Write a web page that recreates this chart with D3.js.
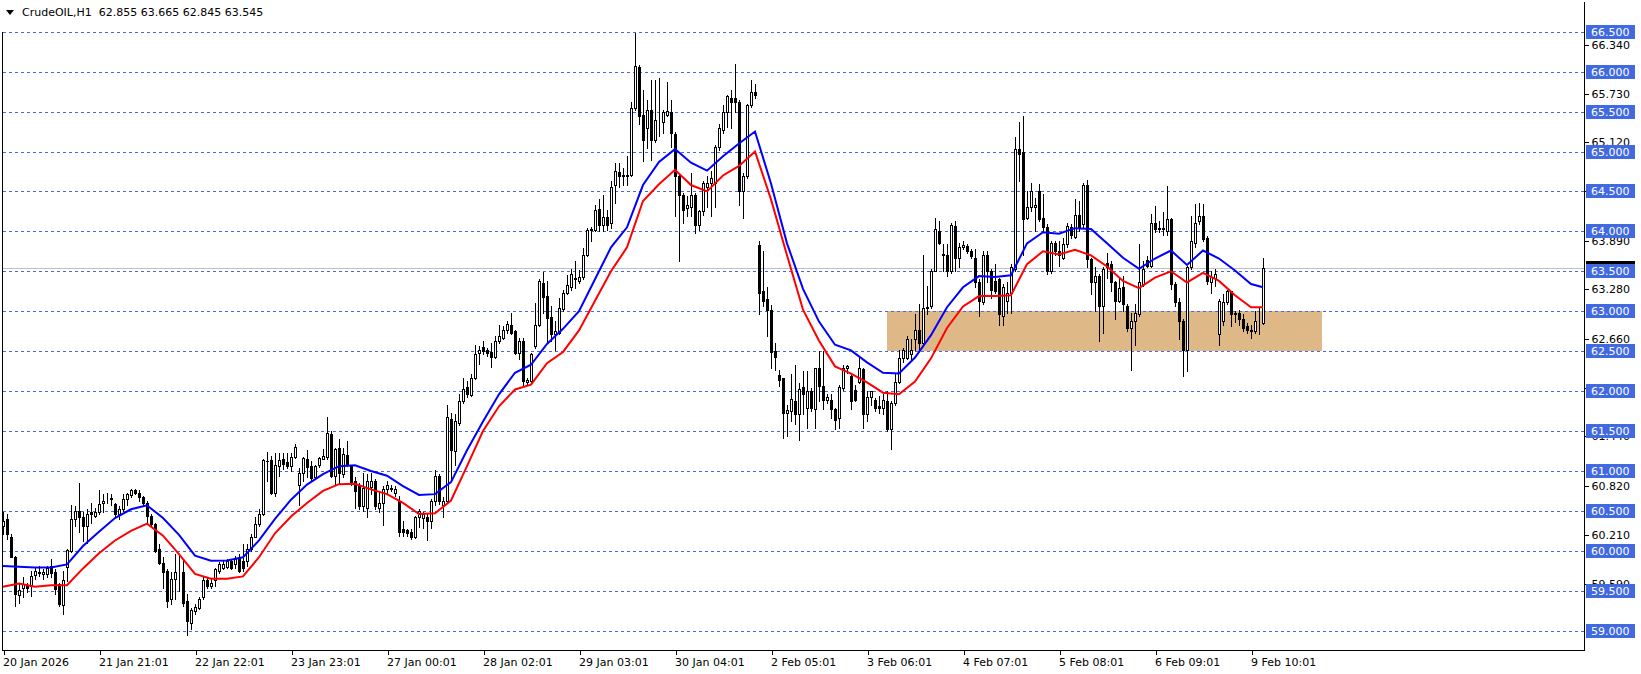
<!DOCTYPE html>
<html><head><meta charset="utf-8">
<script src="https://cdn.jsdelivr.net/npm/d3@7"></script>
<style>
html,body{margin:0;padding:0;background:#fff;}
svg{display:block;}
text{font-family:"DejaVu Sans",Verdana,sans-serif;font-size:11px;}
</style></head>
<body><svg id="c" width="1641" height="674"></svg>
<script>
const opens = [
60.31,60.40,60.175,59.925,59.45,59.54,59.57,59.56,59.70,59.74,
59.71,59.71,59.81,59.73,59.58,59.325,59.80,60.00,60.40,60.50,
60.42,60.31,60.48,60.44,60.48,60.60,60.645,60.65,60.59,60.46,
60.53,60.65,60.70,60.76,60.73,60.67,60.60,60.44,60.33,60.02,
59.85,59.75,59.40,59.65,59.73,59.73,59.375,59.10,59.25,59.29,
59.42,59.63,59.56,59.63,59.75,59.79,59.80,59.875,59.83,59.92,
59.875,59.875,60.02,60.175,60.33,60.46,61.125,61.14,60.73,61.06,
61.15,61.11,61.06,61.17,60.83,60.98,61.15,61.06,60.92,61.07,
61.155,61.17,61.46,60.94,61.29,60.96,61.20,61.06,60.875,60.81,
60.56,60.54,60.80,60.875,60.54,60.60,60.77,60.78,60.73,60.63,
60.27,60.26,60.23,60.17,60.42,60.41,60.42,60.375,60.625,60.94,
60.575,60.625,61.65,61.25,61.60,61.875,62.05,61.95,62.16,62.48,
62.55,62.51,62.49,62.43,62.625,62.67,62.77,62.83,62.75,62.48,
62.63,62.11,62.125,62.56,62.825,63.35,63.19,62.925,62.72,62.73,
63.03,63.23,63.30,63.40,63.375,63.43,63.71,64.02,64.02,64.28,
64.08,64.175,64.10,64.58,64.74,64.69,64.69,64.70,65.54,66.06,
65.46,65.29,65.52,65.145,65.395,65.375,65.46,65.50,65.22,64.69,
64.46,64.29,64.31,64.46,64.08,64.25,64.56,64.60,64.60,65.06,
65.27,65.50,65.67,65.67,65.625,64.50,64.69,65.58,65.75,63.83,
63.25,63.15,63.02,62.50,62.20,62.16,61.73,61.75,61.88,61.71,
62.05,61.79,62.00,61.77,62.29,62.06,61.89,61.89,61.77,61.66,
62.04,62.29,62.19,62.02,62.12,62.28,61.71,61.92,61.89,61.81,
61.79,61.87,61.52,61.85,62.12,62.42,62.42,62.46,62.65,62.76,
62.60,63.04,63.06,63.50,64.01,63.71,63.71,63.50,64.07,63.67,
63.81,63.82,63.76,63.67,63.36,63.11,63.71,63.50,63.38,63.40,
62.94,63.13,63.23,63.53,65.03,64.99,64.17,64.30,64.30,64.51,
64.17,64.06,63.50,63.85,63.76,63.67,63.84,64.05,63.93,64.20,
64.09,64.58,63.65,63.36,63.44,63.07,63.60,63.59,63.36,63.13,
63.30,63.07,62.79,62.88,62.96,63.34,63.64,63.57,64.11,64.03,
64.04,64.01,64.15,63.34,63.11,62.88,62.52,63.55,63.86,64.13,
64.19,63.92,63.36,63.42,62.71,62.88,63.11,63.25,62.98,62.98,
62.90,62.81,62.77,62.75,62.86,62.855];
const highs = [
60.48,60.46,60.21,59.94,59.58,59.67,59.60,59.75,59.80,59.81,
59.77,59.81,59.90,59.77,59.60,59.75,60.02,60.58,60.56,60.85,
60.48,60.52,60.60,60.54,60.76,60.71,60.72,60.71,60.60,60.56,
60.71,60.73,60.78,60.78,60.76,60.69,60.625,60.46,60.35,60.08,
59.92,59.77,59.73,59.96,59.96,59.875,59.46,59.29,59.33,59.42,
59.67,59.67,59.65,59.79,59.86,59.88,59.90,59.90,59.94,59.96,
60.08,60.08,60.21,60.42,60.52,61.15,61.24,61.19,61.23,61.23,
61.23,61.23,61.23,61.34,61.04,61.17,61.26,61.125,61.08,61.175,
61.27,61.675,61.50,61.29,61.40,61.29,61.38,61.08,60.92,60.85,
60.98,60.96,60.98,60.90,60.75,60.81,60.88,60.825,60.81,60.69,
60.375,60.27,60.27,60.44,60.52,60.48,60.46,60.65,61.01,60.96,
60.675,61.83,61.73,61.71,61.96,62.17,62.125,62.21,62.58,62.56,
62.625,62.54,62.60,62.69,62.825,62.81,62.88,62.98,62.77,62.67,
62.67,62.17,62.48,63.10,63.40,63.49,63.375,63.06,62.875,63.16,
63.27,63.45,63.53,63.625,63.52,63.79,64.04,64.05,64.33,64.40,
64.46,64.27,64.625,64.85,64.85,64.79,64.94,65.625,66.48,66.08,
65.77,65.645,65.895,65.895,65.92,65.52,65.875,65.645,65.25,64.73,
64.48,64.44,64.73,64.48,64.27,64.625,64.69,64.75,65.08,65.35,
65.58,65.71,65.77,66.10,65.645,64.73,65.60,65.90,65.85,63.88,
63.76,63.30,63.08,62.60,62.27,62.17,61.83,62.22,62.33,62.10,
62.25,62.25,62.04,62.29,62.50,62.50,61.96,61.96,61.79,62.08,
62.33,62.33,62.23,62.08,62.44,62.29,62.00,62.00,61.91,61.94,
61.96,62.00,61.87,62.21,62.52,62.54,62.69,62.65,62.96,63.09,
63.71,63.32,63.53,64.17,64.13,63.84,63.84,64.11,64.13,63.86,
63.88,63.84,63.78,63.78,63.40,63.76,63.75,63.53,63.59,63.42,
63.34,63.36,63.59,65.18,65.37,65.45,64.51,64.61,64.42,64.59,
64.47,64.09,63.88,63.88,63.88,63.92,64.11,64.09,64.40,64.38,
64.61,64.64,63.67,63.55,63.46,63.55,63.73,63.63,63.38,63.42,
63.44,63.09,62.98,63.09,63.84,63.63,63.69,64.22,64.32,64.13,
64.24,64.57,64.17,63.36,63.17,62.90,63.57,64.19,64.34,64.36,
64.34,63.94,63.50,63.53,63.15,63.21,63.27,63.25,63.00,63.02,
62.96,62.85,62.83,63.00,63.04,63.665];
const lows = [
60.21,60.15,59.92,59.31,59.35,59.42,59.48,59.44,59.65,59.69,
59.65,59.675,59.67,59.46,59.31,59.21,59.62,59.99,60.31,60.23,
60.125,60.10,60.35,60.42,60.46,60.48,60.60,60.58,60.42,60.40,
60.50,60.58,60.68,60.71,60.625,60.56,60.34,60.30,59.98,59.83,
59.54,59.30,59.34,59.40,59.50,59.31,58.95,59.02,59.21,59.27,
59.40,59.54,59.54,59.56,59.72,59.77,59.78,59.77,59.79,59.73,
59.75,59.81,60.00,60.17,60.31,60.45,60.875,60.71,60.69,60.94,
61.03,61.04,61.00,61.16,60.58,60.875,60.92,60.875,60.90,61.05,
61.15,61.15,60.92,60.83,60.85,60.92,61.06,60.83,60.54,60.52,
60.50,60.42,60.71,60.52,60.48,60.325,60.71,60.75,60.69,60.19,
60.19,60.19,60.15,60.16,60.30,60.29,60.13,60.29,60.58,60.59,
60.42,60.60,60.90,61.08,61.58,61.85,61.925,61.94,62.15,62.34,
62.465,62.44,62.30,62.42,62.60,62.65,62.73,62.71,62.46,62.40,
62.06,62.075,62.12,62.54,62.81,62.98,62.60,62.625,62.52,62.71,
63.00,63.21,63.27,63.29,63.35,63.40,63.69,63.88,64.00,64.00,
64.00,64.02,64.04,64.35,64.56,64.58,64.58,64.69,65.52,65.35,
64.88,65.04,64.895,65.125,65.19,65.23,65.445,65.06,64.19,63.625,
64.10,64.19,64.19,63.98,64.02,64.21,64.31,64.19,64.31,65.02,
65.23,65.31,65.29,65.50,64.33,64.17,64.67,65.56,65.67,62.96,
63.06,62.69,62.29,62.27,62.06,61.41,61.44,61.63,61.59,61.39,
61.71,61.54,61.75,61.54,61.87,61.77,61.85,61.66,61.52,61.54,
62.02,62.23,61.77,61.87,62.10,61.54,61.62,61.83,61.75,61.73,
61.71,61.50,61.27,61.83,62.10,62.37,62.40,62.40,62.52,62.52,
62.58,62.96,63.04,63.50,63.84,63.50,63.44,63.48,63.50,63.55,
63.78,63.73,63.67,63.30,62.94,63.09,63.36,63.17,63.23,62.83,
62.83,62.98,62.98,63.50,64.63,63.71,64.15,64.26,64.01,64.13,
64.01,63.46,63.48,63.71,63.57,63.65,63.80,63.92,63.92,64.01,
64.05,63.55,63.21,63.00,62.63,62.73,63.42,63.25,62.90,63.11,
63.00,62.75,62.27,62.58,62.94,63.32,63.55,63.55,63.99,63.99,
63.96,63.96,63.28,63.07,62.65,62.19,62.25,63.53,63.80,64.09,
63.88,63.34,63.23,63.32,62.58,62.83,63.09,62.81,62.86,62.83,
62.75,62.73,62.67,62.73,62.71,62.845];
const closes = [
60.375,60.21,59.925,59.46,59.51,59.58,59.54,59.69,59.75,59.72,
59.73,59.78,59.72,59.52,59.33,59.63,60.01,60.40,60.50,60.42,
60.31,60.46,60.46,60.49,60.59,60.63,60.655,60.66,60.46,60.53,
60.65,60.71,60.76,60.72,60.67,60.60,60.44,60.33,60.00,59.85,
59.73,59.375,59.65,59.73,59.735,59.35,59.125,59.26,59.30,59.40,
59.63,59.56,59.60,59.77,59.83,59.84,59.875,59.79,59.90,59.75,
59.79,60.02,60.17,60.33,60.46,61.14,61.12,60.72,61.07,61.14,
61.09,61.06,61.17,61.30,60.98,61.16,61.05,60.91,61.06,61.16,
61.19,61.47,60.94,61.28,60.98,61.21,61.08,60.85,60.75,60.56,
60.79,60.875,60.88,60.56,60.60,60.77,60.825,60.79,60.78,60.23,
60.23,60.22,60.17,60.42,60.50,60.46,60.375,60.625,60.94,60.625,
60.63,61.675,61.26,61.625,61.875,62.03,61.96,62.17,62.47,62.52,
62.50,62.48,62.43,62.625,62.69,62.77,62.84,62.73,62.48,62.625,
62.125,62.145,62.46,62.825,63.38,63.175,62.92,62.71,62.75,63.04,
63.23,63.33,63.47,63.41,63.43,63.71,64.02,64.03,64.27,64.08,
64.175,64.08,64.56,64.75,64.69,64.70,64.70,65.54,66.07,65.44,
65.145,65.52,65.145,65.395,65.40,65.50,65.51,65.23,64.69,64.46,
64.27,64.33,64.46,64.08,64.25,64.60,64.60,64.67,65.06,65.29,
65.50,65.69,65.625,65.625,64.50,64.69,65.58,65.75,65.71,63.23,
63.125,63.02,62.49,62.43,62.14,61.73,61.76,61.90,61.71,62.03,
61.96,62.00,61.79,62.29,62.06,61.89,61.92,61.77,61.64,62.05,
62.29,62.31,61.87,61.89,62.29,61.71,61.92,62.00,61.79,61.79,
61.89,61.52,61.85,62.12,62.42,62.52,62.65,62.52,62.77,62.60,
63.04,63.05,63.50,64.03,63.86,63.72,63.50,64.08,63.67,63.80,
63.83,63.76,63.69,63.36,63.13,63.70,63.50,63.27,63.25,62.96,
63.30,63.23,63.55,65.03,64.97,64.15,64.30,64.51,64.33,64.15,
64.05,63.50,63.86,63.76,63.71,63.84,64.07,63.96,64.20,64.05,
64.58,63.65,63.36,63.44,63.07,63.53,63.55,63.36,63.13,63.29,
63.09,62.79,62.88,62.98,63.36,63.53,63.57,64.11,64.03,64.04,
64.03,64.15,63.34,63.11,62.88,62.52,63.55,63.88,64.11,64.19,
63.90,63.38,63.43,63.47,63.13,63.11,63.25,62.96,62.96,62.90,
62.79,62.77,62.75,62.88,62.865,63.545];

// moving average lines, read at every 4th bar
const maIndex = [0,4,8,12,16,20,24,28,32,36,40,44,48,52,56,60,64,68,72,76,80,84,88,92,96,100,
104,108,112,116,120,124,128,132,136,140,144,148,152,156,160,164,168,172,176,180,184,188,192,196,
200,204,208,212,216,220,224,228,232,236,240,244,248,252,256,260,264,268,272,276,280,284,288,292,
296,300,304,308,312,315];
const maBlue = [59.81,59.80,59.79,59.79,59.83,60.06,60.24,60.41,60.52,60.57,60.41,60.20,59.94,59.875,
59.88,59.92,60.13,60.40,60.64,60.83,60.96,61.06,61.07,61.00,60.94,60.81,60.70,60.71,60.86,61.26,
61.62,61.96,62.23,62.33,62.59,62.78,63.00,63.40,63.80,64.05,64.58,64.87,65.03,64.86,64.76,64.94,
65.10,65.25,64.60,63.85,63.28,62.87,62.58,62.51,62.36,62.23,62.22,62.42,62.70,63.05,63.30,63.44,
63.43,63.45,63.85,63.99,63.97,64.04,64.03,63.85,63.67,63.53,63.66,63.76,63.58,63.76,63.66,63.51,
63.34,63.30];
const maRed = [59.55,59.59,59.55,59.57,59.57,59.78,59.97,60.13,60.25,60.34,60.19,59.96,59.71,59.65,
59.65,59.68,59.92,60.22,60.43,60.60,60.75,60.835,60.84,60.77,60.71,60.60,60.46,60.47,60.63,61.06,
61.50,61.81,62.02,62.08,62.35,62.49,62.76,63.13,63.50,63.80,64.38,64.59,64.77,64.58,64.50,64.70,
64.82,65.00,64.40,63.70,63.02,62.63,62.31,62.22,62.11,61.98,61.96,62.12,62.41,62.79,63.06,63.19,
63.19,63.20,63.59,63.75,63.71,63.77,63.70,63.56,63.38,63.29,63.42,63.50,63.36,63.48,63.38,63.20,
63.05,63.05];

const timeIndex = [0,24,48,72,96,120,144,168,192,216,240,264,288,312];
const timeLabels = ["20 Jan 2026","21 Jan 21:01","22 Jan 22:01","23 Jan 23:01","27 Jan 00:01",
"28 Jan 02:01","29 Jan 03:01","30 Jan 04:01","2 Feb 05:01","3 Feb 06:01","4 Feb 07:01",
"5 Feb 08:01","6 Feb 09:01","9 Feb 10:01"];
const levels = [66.5,66.0,65.5,65.0,64.5,64.0,63.5,63.0,62.5,62.0,61.5,61.0,60.5,60.0,59.5,59.0];
const axisTicks = [66.34,65.73,65.12,64.51,63.89,63.28,62.66,62.05,61.44,60.82,60.21,59.59];
const lastPrice = 63.545;
const zone = {start:221, end:329.75, low:62.5, high:63.0};
const title = "CrudeOIL,H1  62.855 63.665 62.845 63.545";

const svg = d3.select("#c");
const W = 1641, H = 674;
const plotL = 2, plotR = 1584, plotB = 650;
const x = d3.scaleLinear().domain([0, 315]).range([3, 1263]);
const y = d3.scaleLinear().domain([59.0, 66.5]).range([630.7, 31.7]);
const px = v => Math.round(x(v));
const py = v => Math.round(y(v));

svg.append("rect").attr("width", W).attr("height", H).attr("fill", "#fff");

// zone rectangle
svg.append("rect")
  .attr("x", px(zone.start)).attr("y", py(zone.high))
  .attr("width", px(zone.end) - px(zone.start))
  .attr("height", py(zone.low) - py(zone.high))
  .attr("fill", "#DEB887");

// bid line
svg.append("line").attr("x1", plotL).attr("x2", plotR)
  .attr("y1", py(lastPrice) + 0.5).attr("y2", py(lastPrice) + 0.5)
  .attr("stroke", "#C0C0C0").attr("stroke-width", 1);

// horizontal level lines
svg.append("g").selectAll("line").data(levels).join("line")
  .attr("x1", plotL + 1).attr("x2", plotR)
  .attr("y1", d => py(d) + 0.5).attr("y2", d => py(d) + 0.5)
  .attr("stroke", "#4169E1").attr("stroke-width", 1)
  .attr("stroke-dasharray", "3,3").attr("shape-rendering", "crispEdges");

// candles
const bars = d3.range(opens.length).map(i => ({i, o: opens[i], h: highs[i], l: lows[i], c: closes[i]}));
const cg = svg.append("g").attr("shape-rendering", "crispEdges");
cg.selectAll("line.w").data(bars).join("line").attr("class", "w")
  .attr("x1", d => px(d.i) + 0.5).attr("x2", d => px(d.i) + 0.5)
  .attr("y1", d => py(d.h)).attr("y2", d => py(d.l) + 1)
  .attr("stroke", "#000").attr("stroke-width", 1);
cg.selectAll("rect.b").data(bars).join("rect").attr("class", "b")
  .each(function(d) {
    const s = d3.select(this);
    const cx = px(d.i);
    const yo = py(d.o), yc = py(d.c);
    if (d.c >= d.o) {
      s.attr("x", cx - 0.5).attr("y", yc + 0.5).attr("width", 2)
       .attr("height", Math.max(yo - yc, 0)).attr("fill", "#fff")
       .attr("stroke", "#000").attr("stroke-width", 1);
    } else {
      s.attr("x", cx - 1).attr("y", yo).attr("width", 3)
       .attr("height", Math.max(yc - yo, 0) + 1).attr("fill", "#000");
    }
  });

// moving averages
const maLine = arr => d3.line().x((d, k) => x(maIndex[k])).y(d => y(d))(arr);
svg.append("path").attr("d", maLine(maBlue)).attr("fill", "none")
  .attr("stroke", "#0000FF").attr("stroke-width", 2);
svg.append("path").attr("d", maLine(maRed)).attr("fill", "none")
  .attr("stroke", "#FF0000").attr("stroke-width", 2);

// frame
svg.append("path")
  .attr("d", `M${plotL + 0.5},32 V${plotB + 0.5} H${plotR + 0.5} V2`)
  .attr("fill", "none").attr("stroke", "#000").attr("stroke-width", 1)
  .attr("shape-rendering", "crispEdges");

// price axis
const ya = svg.append("g").attr("transform", `translate(${plotR + 0.5},0.5)`)
  .call(d3.axisRight(y).tickValues(axisTicks).tickFormat(d3.format(".3f")).tickSize(4).tickPadding(3));
ya.select(".domain").remove();
ya.selectAll("text").attr("fill", "#000").style("font-family", '"DejaVu Sans",Verdana,sans-serif').style("font-size", "11px");
ya.selectAll("line").attr("stroke", "#000").attr("shape-rendering", "crispEdges");
ya.attr("font-size", null).attr("font-family", null);

// time axis
const xa = svg.append("g").attr("transform", `translate(0.5,${plotB + 0.5})`)
  .call(d3.axisBottom(x).tickValues(timeIndex)
    .tickFormat((d, k) => timeLabels[k]).tickSize(4).tickPadding(4));
xa.select(".domain").remove();
xa.selectAll("text").attr("text-anchor", "start").attr("dx", "-1")
  .attr("fill", "#000").style("font-family", '"DejaVu Sans",Verdana,sans-serif').style("font-size", "11px");
xa.selectAll("line").attr("stroke", "#000").attr("shape-rendering", "crispEdges");
xa.attr("font-size", null).attr("font-family", null);

// current price label (black) then level labels (blue)
const lab = svg.append("g");
lab.append("rect").attr("x", 1586).attr("y", py(lastPrice) - 7).attr("width", 49).attr("height", 14).attr("fill", "#000");
lab.append("text").attr("x", 1591).attr("y", py(lastPrice) + 4).attr("fill", "#fff").text(d3.format(".3f")(lastPrice));
const lg = svg.append("g").selectAll("g").data(levels).join("g");
lg.append("rect").attr("x", 1586).attr("y", d => py(d) - 7).attr("width", 49).attr("height", 14).attr("fill", "#4169E1");
lg.append("text").attr("x", 1591).attr("y", d => py(d) + 4).attr("fill", "#fff").text(d => d3.format(".3f")(d));

// title
svg.append("path").attr("d", "M6,10 L14,10 L10,15 Z").attr("fill", "#000");
svg.append("text").attr("x", 22).attr("y", 16).attr("fill", "#000")
  .style("white-space", "pre").attr("xml:space", "preserve").text(title);
</script></body></html>
